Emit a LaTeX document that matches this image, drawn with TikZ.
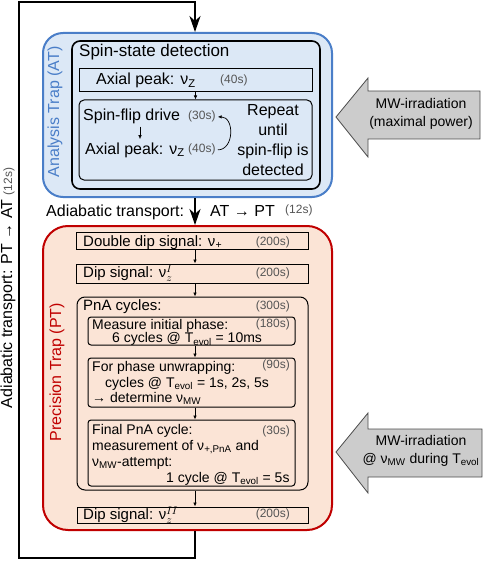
\documentclass[tikz,border=0pt]{standalone}
\usepackage{fontspec}
\setmainfont{Liberation Sans}
\usepackage{tikz}
\usetikzlibrary{arrows.meta}
\definecolor{atblue}{RGB}{74,126,200}
\definecolor{atfill}{RGB}{220,232,246}
\definecolor{ptred}{RGB}{192,0,0}
\definecolor{ptfill}{RGB}{251,228,214}
\definecolor{mwgray}{RGB}{204,204,204}
\definecolor{tgray}{RGB}{85,85,85}

\begin{document}
\begin{tikzpicture}[
        x=1pt, y=-1pt,
        every node/.style={inner sep=0pt},
        trapAT/.style={draw=atblue, fill=atfill, line width=2pt, rounded corners=20pt},
        trapPT/.style={draw=ptred, fill=ptfill, line width=2pt, rounded corners=25pt},
        outerbox/.style={draw, line width=1.6pt, rounded corners=8pt},
        stepbox/.style={draw, line width=1pt},
        roundbox/.style={draw, line width=1pt, rounded corners=5pt},
        title/.style={font=\fontsize{17}{20}\selectfont},
        txtL/.style={font=\fontsize{16}{20}\selectfont},
        txtM/.style={font=\fontsize{15}{18}\selectfont},
        txtS/.style={font=\fontsize{14}{15.7}\selectfont},
        tm/.style={text=tgray, font=\fontsize{12}{14}\selectfont},
        smallarr/.style={-{Latex[length=4pt,width=3.5pt]}, line width=0.7pt},
        bigarr/.style={-{Stealth[length=16pt,width=11pt,inset=5pt]}, line width=2.2pt},
        mwarrow/.style={draw=black!70, fill=mwgray, line width=0.8pt}
        ]
        \useasboundingbox (0,0) rectangle (499,564);
        \coordinate (col) at (195,0);
        \coordinate (fcol) at (140,0);

        % Trampa de analisis
        \node[trapAT, minimum width=289pt, minimum height=164pt] (at) at (187.5,115) {};
        \node[txtL, text=atblue, rotate=90] (atlab) at (55,112) {Analysis Trap (AT)};
        \node[outerbox, minimum width=248pt, minimum height=148pt] (ssd) at (196,115) {};
        \node[title, anchor=base west] (ssdtxt) at (79,57) {Spin-state detection};

        \node[stepbox, minimum width=233pt, minimum height=23pt] (ax) at (195.5,80.5) {};
        \node[txtL, anchor=base west] (axtxt) at (96,85) {Axial peak: ν\textsubscript{Z}};
        \node[tm, anchor=base west] (axtm) at (220,84) {(40s)};

        \node[roundbox, minimum width=233pt, minimum height=80pt] (rep) at (195.5,140) {};
        \node[txtL, anchor=base west] (flip) at (83,121) {Spin-flip drive};
        \node[tm, anchor=base west] (fliptm) at (188,120) {(30s)};
        \node[txtL, anchor=base west] (ax2) at (85,154) {Axial peak: ν\textsubscript{Z}};
        \node[tm, anchor=base west] (ax2tm) at (188,153) {(40s)};
        \node[txtL, align=center] (reptxt) at (273,140) {Repeat\\until\\spin-flip is\\detected};

        % Transporte
        \node[txtL, anchor=base west] (trtxt) at (46,216) {Adiabatic transport:};
        \node[txtL, anchor=base west] (trdir) at (210,216) {AT → PT};
        \node[tm, anchor=base west] (trtm) at (285,213) {(12s)};
        \node[txtL, rotate=90] (backtxt) at (8,288) {Adiabatic transport: PT → AT \textcolor{tgray}{\fontsize{12}{14}\selectfont (12s)}};

        % Trampa de precision
        \node[trapPT, minimum width=289pt, minimum height=304pt] (pt) at (187.5,378) {};
        \node[txtL, text=ptred, rotate=90] (ptlab) at (57,372) {Precision Trap (PT)};

        \node[stepbox, minimum width=232pt, minimum height=17pt] (dd) at (192,240.5) {};
        \node[txtM, anchor=base west] (ddtxt) at (83,246) {Double dip signal: ν\textsubscript{+}};
        \node[tm, anchor=base east] (ddtm) at (290,245) {(200s)};

        \node[stepbox, minimum width=232pt, minimum height=19pt] (dp1) at (192,273.5) {};
        \node[txtM, anchor=base west] (dp1txt) at (83,277.5) {Dip signal: ν$_z^{I}$};
        \node[tm, anchor=base east] (dp1tm) at (290,276) {(200s)};

        \node[roundbox, rounded corners=8pt, minimum width=231pt, minimum height=193pt] (pna) at (192.5,393.5) {};
        \node[txtM, anchor=base west] (pnatxt) at (83,310) {PnA cycles:};
        \node[tm, anchor=base east] (pnatm) at (290,309) {(300s)};

        \node[roundbox, rounded corners=3pt, minimum width=207pt, minimum height=28pt] (meas) at (191.5,331) {};
        \node[txtS, font=\fontsize{14}{13.5}\selectfont, align=left, anchor=north west] (meastxt) at (92,319)
            {Measure initial phase:\\\hspace*{20pt}6 cycles @ T\textsubscript{evol} = 10ms};
        \node[tm, anchor=base east] (meastm) at (290,327) {(180s)};

        \node[roundbox, rounded corners=3pt, minimum width=207pt, minimum height=49pt] (unw) at (191.5,382.5) {};
        \node[txtS, align=left, anchor=north west] (unwtxt) at (92,361)
            {For phase unwrapping:\\\hspace*{13pt}cycles @ T\textsubscript{evol} = 1s, 2s, 5s\\→ determine ν\textsubscript{MW}};
        \node[tm, anchor=base east] (unwtm) at (290,368) {(90s)};

        \node[roundbox, rounded corners=3pt, minimum width=207pt, minimum height=66pt] (fin) at (191.5,453) {};
        \node[txtS, font=\fontsize{14}{16.1}\selectfont, align=left, anchor=north west] (fintxt) at (92,424)
            {Final PnA cycle:\\measurement of ν\textsubscript{+,PnA} and\\ν\textsubscript{MW}-attempt:\\\hspace*{74pt}1 cycle @ T\textsubscript{evol} = 5s};
        \node[tm, anchor=base east] (fintm) at (290,434) {(30s)};

        \node[stepbox, minimum width=231pt, minimum height=16pt] (dp2) at (192.5,515) {};
        \node[txtM, anchor=base west] (dp2txt) at (83,519.5) {Dip signal: ν$_z^{II}$};
        \node[tm, anchor=base east] (dp2tm) at (290,517) {(200s)};

        % Irradiacion MW
        \draw[mwarrow] (336,117) -- (368,78) -- (368,91) -- (480,91) -- (480,139) -- (368,139) -- (368,157) -- cycle;
        \node[txtS, font=\fontsize{14}{18}\selectfont, align=center] (mw1) at (421,114) {MW-irradiation\\(maximal power)};
        \draw[mwarrow] (336,452) -- (368,413) -- (368,429) -- (482,429) -- (482,477) -- (368,477) -- (368,493) -- cycle;
        \node[txtS, font=\fontsize{14}{18}\selectfont, align=center] (mw2) at (421,451) {MW-irradiation\\@ ν\textsubscript{MW} during T\textsubscript{evol}};

        % Conexiones
        \coordinate (lb) at (19,558);
        \coordinate (lt) at (19,2);
        \draw[bigarr] (pt.south -| col) |- (lb) -- (lt) -| (at.north -| col);
        \draw[bigarr] (at.south -| col) -- (pt.north -| col);

        \draw[smallarr] (ax.south) -- (rep.north);
        \draw[smallarr, shorten <=2pt, shorten >=3pt] (flip.south -| fcol) -- (ax2.north -| fcol);
        \draw[smallarr] ([xshift=2pt]ax2tm.east) to[out=0, in=0, looseness=1.3] ([xshift=2pt]fliptm.east);

        \draw[smallarr] (dd.south -| col) -- (dp1.north -| col);
        \draw[smallarr] (dp1.south -| col) -- (pna.north -| col);
        \draw[smallarr] (meas.south -| col) -- (unw.north -| col);
        \draw[smallarr] (unw.south -| col) -- (fin.north -| col);
        \draw[smallarr] (pna.south -| col) -- (dp2.north -| col);
\end{tikzpicture}
\end{document}
